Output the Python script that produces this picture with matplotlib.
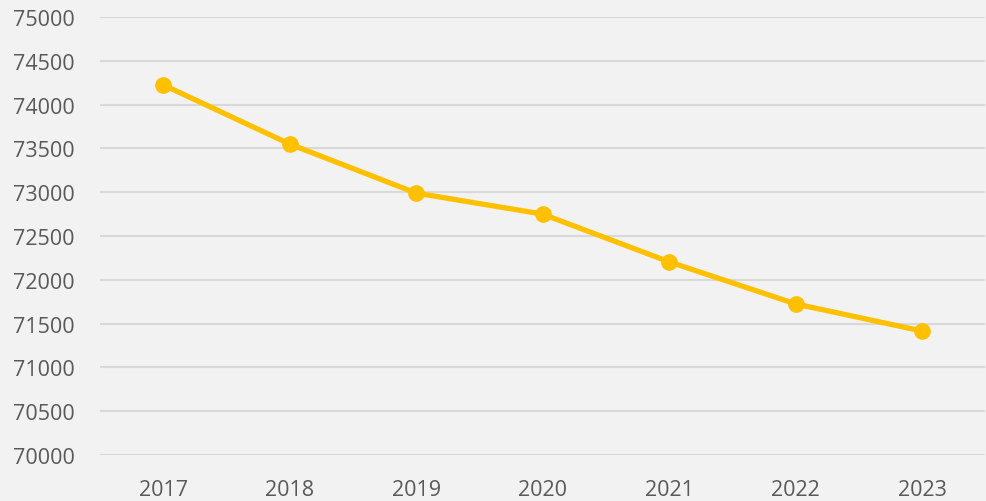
import matplotlib.pyplot as plt

years = ['2017', '2018', '2019', '2020', '2021', '2022', '2023']
population = [74225, 73550, 72990, 72750, 72205, 71725, 71415]

plt.rcParams['font.family'] = ['Open Sans', 'DejaVu Sans']

fig = plt.figure(figsize=(9.86, 5.02), dpi=100, facecolor='#f2f2f2')
ax = fig.add_axes([0.1014, 0.0916, 0.898, 0.8725])
ax.set_facecolor('#f2f2f2')

x = range(len(years))
ax.plot(x, population, color='#ffc000', linewidth=3.8, marker='o',
        markersize=11, solid_capstyle='round', zorder=3)

ax.set_xlim(-0.5, len(years) - 0.5)
ax.set_ylim(70000, 75000)
ax.set_yticks(range(70000, 75001, 500))
ax.set_xticks(list(x))
ax.set_xticklabels(years)

ax.grid(axis='y', color='#d9d9d9', linewidth=1.5)
ax.set_axisbelow(True)
for s in ax.spines.values():
    s.set_visible(False)
ax.tick_params(axis='both', length=0, colors='#595959', labelsize=15.5)
ax.tick_params(axis='y', pad=18)
ax.tick_params(axis='x', pad=17)

fig.savefig('out.png', dpi=100, facecolor='#f2f2f2')
